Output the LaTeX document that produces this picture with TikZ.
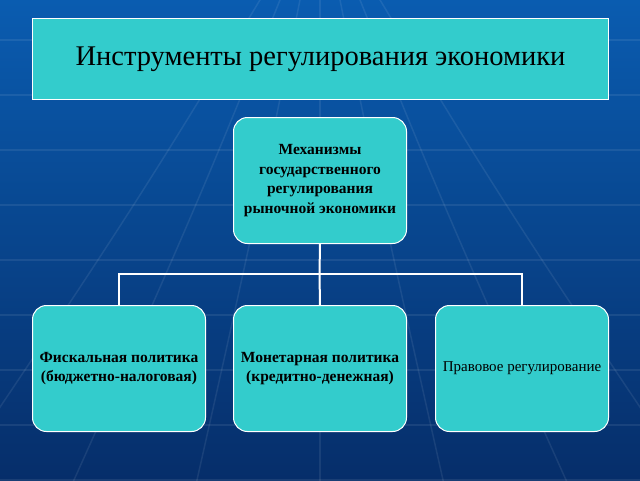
\documentclass[tikz,border=0pt]{standalone}
\usepackage{fontspec}
\setmainfont{Liberation Serif}
\begin{document}
\begin{tikzpicture}[x=1pt,y=-1pt,
  box/.style={draw=white,line width=1pt,fill=boxc,rounded corners=14pt,minimum width=173pt,minimum height=126pt,align=center,font=\bfseries\fontsize{15.5}{19.5}\selectfont,anchor=north west,inner sep=1pt},
  link/.style={draw=white,line width=2pt}]
\definecolor{boxc}{HTML}{33CCCC}
\definecolor{bgtop}{HTML}{0A5CB0}
\definecolor{bgbot}{HTML}{062E6A}
\useasboundingbox (0,0) rectangle (640,480);
\shade[top color=bgtop,bottom color=bgbot] (0,0) rectangle (640,480);
\foreach \i in {0,...,8} {\draw[white,opacity=0.08,line width=1.5pt] (0,40+\i*55) -- (640,40+\i*55);}
\foreach \i in {0,...,6} {\draw[white,opacity=0.08,line width=1.5pt] (320,-100) .. controls (320+\i*60-180,200) .. (320+\i*150-450,600);}
\node[draw=white,line width=1pt,fill=boxc,minimum width=576pt,minimum height=81pt,anchor=north west,font=\fontsize{28.5}{32}\selectfont] (title) at (32,18) {Инструменты регулирования экономики};
\node[box] (top) at (233,117) {Механизмы\\государственного\\регулирования\\рыночной экономики};
\node[box] (f) at (32,305) {Фискальная политика\\(бюджетно-налоговая)};
\node[box] (m) at (233,305) {Монетарная политика\\(кредитно-денежная)};
\node[box,font=\fontsize{15}{19}\selectfont] (p) at (435,305) {Правовое регулирование};
\coordinate (j) at (319.5,274);
\draw[link] (top.south) -- (j);
\draw[link] (f.north) |- (j) -| (p.north);
\draw[link] (j) -- (m.north);
\end{tikzpicture}
\end{document}
